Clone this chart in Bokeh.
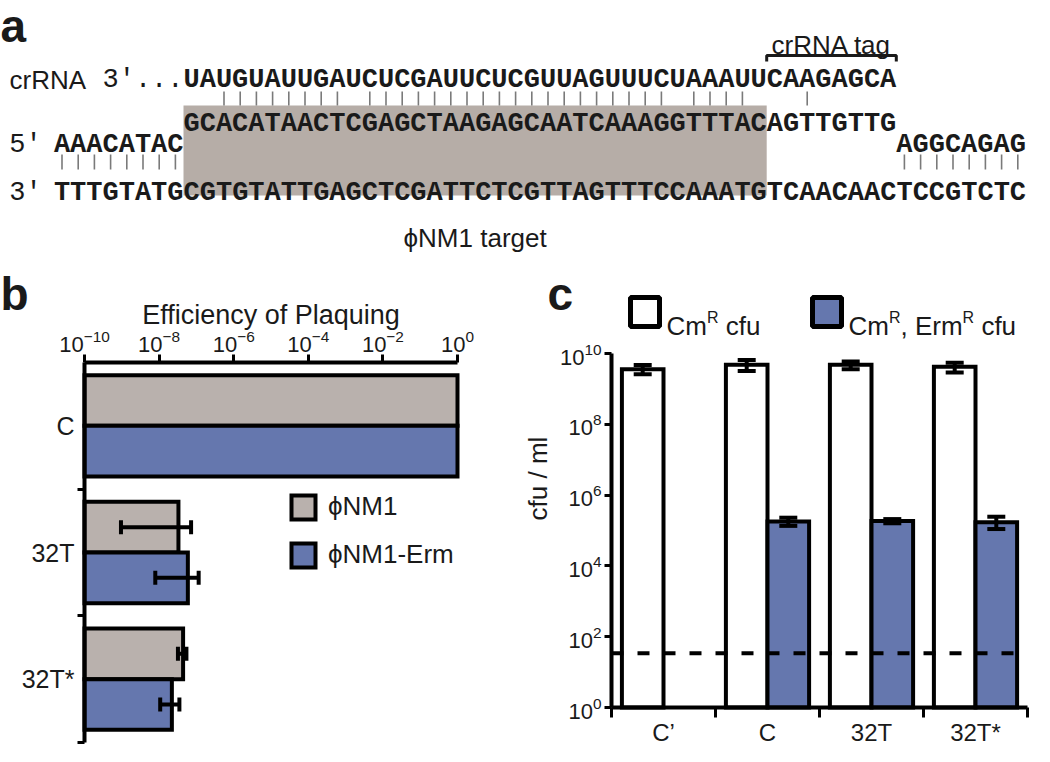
import math
from bokeh.plotting import figure
from bokeh.models import (Range1d, FixedTicker, Whisker, TeeHead, Label, BoxAnnotation,
                          Legend, LegendItem, ColumnDataSource)
from bokeh.layouts import column, row
from bokeh.embed import file_html
from bokeh.resources import INLINE
from bokeh.core.properties import value

# ---------------- Panel a: sequences ----------------
crrna_spacer = "UAUGUAUUGAUCUCGAUUCUCGUUAGUUUCUAAAUU"
crrna_tag = "CAAGAGCA"
top_left = "AAACATAC"
top_protospacer = "GCACATAACTCGAGCTAAGAGCAATCAAAGGTTTAC"
top_after = "AGTTGTTG"
top_right = "AGGCAGAG"
bottom_strand = "TTTGTATGCGTGTATTGAGCTCGATTCTCGTTAGTTTCCAAATGTCAACAACTCCGTCTC"
spacer_pairs = [2, 3, 4, 5, 6, 7, 8, 9, 11, 12, 13, 14, 15, 16, 17, 18, 19, 20,
                21, 22, 23, 24, 25, 26, 27, 28, 29, 31, 32, 33, 34]
tag_pairs = [2]
left_duplex_pairs = [0, 1, 2, 3, 4, 5, 6, 7]
right_duplex_pairs = [0, 1, 2, 3, 4, 5, 6, 7]

# ---------------- Panel b: efficiency of plaquing ----------------
b_categories = ["C", "32T", "32T*"]
b_phi = [1.0, 3.3e-8, 4.4e-8]
b_phi_lo = [None, 9.5e-10, 3.2e-8]
b_phi_hi = [None, 7.2e-8, 5.4e-8]
b_erm = [1.0, 5.9e-8, 2.2e-8]
b_erm_lo = [None, 7.9e-9, 1.07e-8]
b_erm_hi = [None, 1.15e-7, 3.5e-8]
b_ticks = [1e-10, 1e-8, 1e-6, 1e-4, 1e-2, 1.0]
b_series = ["\u03d5NM1", "\u03d5NM1-Erm"]

# ---------------- Panel c: cfu / ml ----------------
c_categories = ["C\u2019", "C", "32T", "32T*"]
c_cm = [3.6e9, 4.8e9, 4.8e9, 4.2e9]
c_cm_lo = [2.6e9, 3.2e9, 3.6e9, 2.9e9]
c_cm_hi = [4.7e9, 6.5e9, 5.9e9, 5.5e9]
c_cmerm = [None, 1.8e5, 1.85e5, 1.7e5]
c_cmerm_lo = [None, 1.35e5, 1.6e5, 1.1e5]
c_cmerm_hi = [None, 2.3e5, 2.1e5, 2.45e5]
c_detection_limit = 34
c_ticks = [1, 1e2, 1e4, 1e6, 1e8, 1e10]
c_series = [[("Cm", 0), ("R", 1), (" cfu", 0)],
            [("Cm", 0), ("R", 1), (", Erm", 0), ("R", 1), (" cfu", 0)]]

GRAY = "#b9b1ad"
BOX_GRAY = "#b6ada7"
BLUE = "#6577ae"
INK = "#1a1a1a"
SANS = value("Liberation Sans")
MONO = value("Liberation Mono")
FIGS = []


def base_fig(w, h, xr, yr, **kw):
    f = figure(width=w, height=h, x_range=Range1d(*xr), y_range=Range1d(*yr),
               output_backend="svg", toolbar_location=None, min_border=0,
               title_location=None, **kw)
    f.grid.visible = False
    f.outline_line_color = None
    FIGS.append(f)
    return f


def label(fig, x, y, text, size, bold=False, align="left", baseline="alphabetic", angle=0):
    fig.add_layout(Label(x=x, y=y, x_units="screen", y_units="screen", text=text,
                         text_font="Liberation Sans", text_font_size=f"{size}px",
                         text_font_style="bold" if bold else "normal",
                         text_align=align, text_baseline=baseline, angle=angle,
                         text_color=INK))


# =========== Panel a (x in sequence columns, y in px from page top) ===========
CW = 16.2
COL0 = 53.4
WA, HA = 1034, 262
pa = base_fig(WA, HA, (-COL0 / CW, (WA - COL0) / CW), (270, 8),
              x_axis_location=None, y_axis_location=None)

Y_CR, Y_TOP, Y_MID, Y_BOT = 87.5, 131, 152, 200
pa.quad(left=[8], right=[8 + len(top_protospacer)], top=[113], bottom=[203],
        fill_color=BOX_GRAY, line_color=None)

tag_start = 8 + len(crrna_spacer)
right_start = tag_start + len(crrna_tag)
seq_x = [8, tag_start, 0, 8, 8 + len(top_protospacer), right_start, 0]
seq_y = [Y_CR, Y_CR, Y_MID, Y_TOP, Y_TOP, Y_MID, Y_BOT]
seq_t = [crrna_spacer, crrna_tag, top_left, top_protospacer, top_after, top_right, bottom_strand]
pa.text(x=seq_x, y=seq_y, text=seq_t, text_font=MONO, text_font_style="bold",
        text_font_size="27px", text_baseline="alphabetic", text_align="left",
        text_color=INK)
pa.text(x=[3, -2.75, -2.75], y=[Y_CR, Y_MID, Y_BOT], text=["3\u2032...", "5\u2032", "3\u2032"],
        text_font=MONO, text_font_size="27px", text_baseline="alphabetic",
        text_align="left", text_color=INK)

up_cols = [8 + i + 0.5 for i in spacer_pairs] + [tag_start + i + 0.5 for i in tag_pairs]
pa.segment(x0=up_cols, y0=[99] * len(up_cols), x1=up_cols, y1=[113] * len(up_cols),
           line_color="#7a7a7a", line_width=1.6)
lo_cols = [i + 0.5 for i in left_duplex_pairs] + [right_start + i + 0.5 for i in right_duplex_pairs]
pa.segment(x0=lo_cols, y0=[162] * len(lo_cols), x1=lo_cols, y1=[177] * len(lo_cols),
           line_color="#7a7a7a", line_width=1.6)

pa.line(x=[tag_start, tag_start, right_start, right_start], y=[69, 63, 63, 69],
        line_color=INK, line_width=3)
pa.text(x=[(tag_start + right_start) / 2], y=[52], text=["crRNA tag"], text_font=SANS,
        text_font_size="26px", text_align="center", text_baseline="alphabetic",
        text_color=INK)
pa.text(x=[8 + len(top_protospacer) / 2], y=[245], text=["\u03d5NM1 target"], text_font=SANS,
        text_font_size="26px", text_align="center", text_baseline="alphabetic",
        text_color=INK)
pa.text(x=[-2.74], y=[Y_CR], text=["crRNA"], text_font=SANS, text_font_size="26px",
        text_align="left", text_baseline="alphabetic", text_color=INK)
pa.text(x=[-COL0 / CW], y=[33], text=["a"], text_font=SANS, text_font_style="bold",
        text_font_size="46px", text_align="left", text_baseline="alphabetic",
        text_color=INK)

# =========== Panel b (frame = whole canvas; axes at fixed locations) ===========
WB, HB = 524, 484
DEC_B = 37.3                 # px per decade
BAND_B = 380 / 3             # px per category
AX_L, AX_T = 84, 100         # axis corner inside the canvas
pb = base_fig(WB, HB,
              (10 ** (-10 - AX_L / DEC_B), 10 ** ((WB - AX_L) / DEC_B - 10)),
              (3 + (HB - AX_T - 380) / BAND_B, -AX_T / BAND_B),
              x_axis_type="log", x_axis_location="above")

b_pos = [i + 0.5 for i in range(len(b_categories))]
gray_r = pb.hbar(y=[p - 0.2 for p in b_pos], height=0.4, left=b_ticks[0], right=b_phi,
                 fill_color=GRAY, line_color="black", line_width=4, line_join="miter")
blue_r = pb.hbar(y=[p + 0.2 for p in b_pos], height=0.4, left=b_ticks[0], right=b_erm,
                 fill_color=BLUE, line_color="black", line_width=4, line_join="miter")


def whisk_src(pos, off, lo, hi):
    d = dict(b=[], lo=[], hi=[])
    for p, l, h in zip(pos, lo, hi):
        if l is not None:
            d["b"].append(p + off)
            d["lo"].append(l)
            d["hi"].append(h)
    return ColumnDataSource(d)


for off, lo, hi in [(-0.2, b_phi_lo, b_phi_hi), (0.2, b_erm_lo, b_erm_hi)]:
    pb.add_layout(Whisker(source=whisk_src(b_pos, off, lo, hi), base="b", lower="lo",
                          upper="hi", dimension="width", line_width=4, line_color="black",
                          level="overlay",
                          upper_head=TeeHead(size=14, line_width=4, line_color="black"),
                          lower_head=TeeHead(size=14, line_width=4, line_color="black")))

xa = pb.xaxis[0]
xa.fixed_location = 0
xa.bounds = (b_ticks[0], b_ticks[-1])
xa.ticker = FixedTicker(ticks=b_ticks, minor_ticks=[])
xa.major_label_text_font = "Liberation Sans"
xa.major_label_text_font_size = "22px"
xa.major_label_text_color = INK
xa.major_label_standoff = 3
xa.axis_line_width = 4
xa.major_tick_line_width = 3
xa.major_tick_out = 8
xa.major_tick_in = 0

ya = pb.yaxis[0]
ya.fixed_location = b_ticks[0]
ya.bounds = (0, len(b_categories))
ya.ticker = FixedTicker(ticks=b_pos, minor_ticks=list(range(1, len(b_categories) + 1)))
ya.major_label_overrides = {p: c for p, c in zip(b_pos, b_categories)}
ya.major_label_text_font = "Liberation Sans"
ya.major_label_text_font_size = "25px"
ya.major_label_text_color = INK
ya.major_label_standoff = 3
ya.axis_line_width = 4
ya.major_tick_out = 0
ya.major_tick_in = 0
ya.minor_tick_out = 7
ya.minor_tick_in = 0
ya.minor_tick_line_width = 3
ya.minor_tick_line_color = "black"

leg_b = Legend(items=[LegendItem(label=b_series[0], renderers=[gray_r]),
                      LegendItem(label=b_series[1], renderers=[blue_r])],
               location=(288, 176), glyph_width=30, glyph_height=30, spacing=17,
               padding=0, margin=0, label_standoff=10, border_line_color=None,
               background_fill_alpha=0, label_text_font="Liberation Sans",
               label_text_font_size="26px", label_text_color=INK)
pb.add_layout(leg_b)
# screen coords: origin at canvas bottom-left
label(pb, 0, HB - 31, "b", 46, bold=True)
label(pb, 270.5, HB - 52, "Efficiency of Plaquing", 27, align="center")

# =========== Panel c ===========
WC, HC = 510, 484
DEC_C = 35.4
BAND_C = 104
CX_L, CX_T, CX_B = 87, 91, 445   # y axis x, 10^10 y, 10^0 y inside the canvas
pc = base_fig(WC, HC,
              (-CX_L / BAND_C, (WC - CX_L) / BAND_C),
              (10 ** (-(HC - CX_B) / DEC_C), 10 ** (10 + CX_T / DEC_C)),
              y_axis_type="log")

c_pos = [i + 0.5 for i in range(len(c_categories))]
pc.vbar(x=[p - 0.2 for p in c_pos], width=0.4, bottom=c_ticks[0], top=c_cm,
        fill_color="white", line_color="black", line_width=4, line_join="miter")
bx = [p + 0.2 for p, v in zip(c_pos, c_cmerm) if v is not None]
bt = [v for v in c_cmerm if v is not None]
pc.vbar(x=bx, width=0.4, bottom=c_ticks[0], top=bt, fill_color=BLUE, line_color="black",
        line_width=4, line_join="miter")
for off, lo, hi in [(-0.2, c_cm_lo, c_cm_hi), (0.2, c_cmerm_lo, c_cmerm_hi)]:
    pc.add_layout(Whisker(source=whisk_src(c_pos, off, lo, hi), base="b", lower="lo",
                          upper="hi", dimension="height", line_width=4, line_color="black",
                          level="overlay",
                          upper_head=TeeHead(size=18, line_width=4, line_color="black"),
                          lower_head=TeeHead(size=18, line_width=4, line_color="black")))
pc.segment(x0=[0], x1=[len(c_categories)], y0=[c_detection_limit], y1=[c_detection_limit],
           line_color="black", line_width=4, line_dash="12 14")

cx = pc.xaxis[0]
cx.fixed_location = c_ticks[0]
cx.bounds = (0, len(c_categories))
cx.ticker = FixedTicker(ticks=c_pos, minor_ticks=list(range(len(c_categories) + 1)))
cx.major_label_overrides = {p: c for p, c in zip(c_pos, c_categories)}
cx.major_label_text_font = "Liberation Sans"
cx.major_label_text_font_size = "24px"
cx.major_label_text_color = INK
cx.major_label_standoff = 1
cx.axis_line_width = 4
cx.major_tick_out = 0
cx.major_tick_in = 0
cx.minor_tick_out = 10
cx.minor_tick_in = 0
cx.minor_tick_line_width = 3
cx.minor_tick_line_color = "black"

cy = pc.yaxis[0]
cy.fixed_location = 0
cy.bounds = (c_ticks[0], c_ticks[-1])
cy.ticker = FixedTicker(ticks=c_ticks, minor_ticks=[])
cy.major_label_text_font = "Liberation Sans"
cy.major_label_text_font_size = "22px"
cy.major_label_text_color = INK
cy.major_label_standoff = 3
cy.axis_line_width = 4
cy.major_tick_line_width = 3
cy.major_tick_out = 7
cy.major_tick_in = 0

label(pc, 13, HC - 216, "cfu / ml", 26, align="center", baseline="middle",
      angle=math.pi / 2)
label(pc, 23, HC - 31, "c", 46, bold=True)

# legend of panel c: swatches + rich labels (superscript R)
ARIAL = {"C": 722, "m": 833, " ": 278, "c": 500, "f": 278, "u": 556, ",": 278,
         "E": 667, "r": 333, "R": 722}
FS, FSUP = 26, 16
SW_TOP, SW = HC - 35, 29          # swatch top (screen y) and size
sw_left = [106, 288]
sw_fill = ["white", BLUE]
for s0, fc, parts in zip(sw_left, sw_fill, c_series):
    pc.add_layout(BoxAnnotation(left=s0, right=s0 + SW, top=SW_TOP, bottom=SW_TOP - SW,
                                left_units="screen", right_units="screen",
                                top_units="screen", bottom_units="screen",
                                fill_color=fc, fill_alpha=1, line_color="black",
                                line_width=5, line_alpha=1, level="overlay"))
    x = s0 + SW + 7
    for txt, sup in parts:
        size = FSUP if sup else FS
        lead = len(txt) - len(txt.lstrip())
        xx = x + sum(ARIAL[ch] for ch in txt[:lead]) * size / 1000
        label(pc, xx, SW_TOP - SW + (8 if sup else 0) + 1, txt.strip(), size)
        x += sum(ARIAL[ch] for ch in txt) * size / 1000

for f in FIGS:
    try:
        f.frame_align = False
    except Exception:
        pass

layout = column(pa, row(pb, pc))
open("out.html", "w").write(file_html(layout, INLINE))
